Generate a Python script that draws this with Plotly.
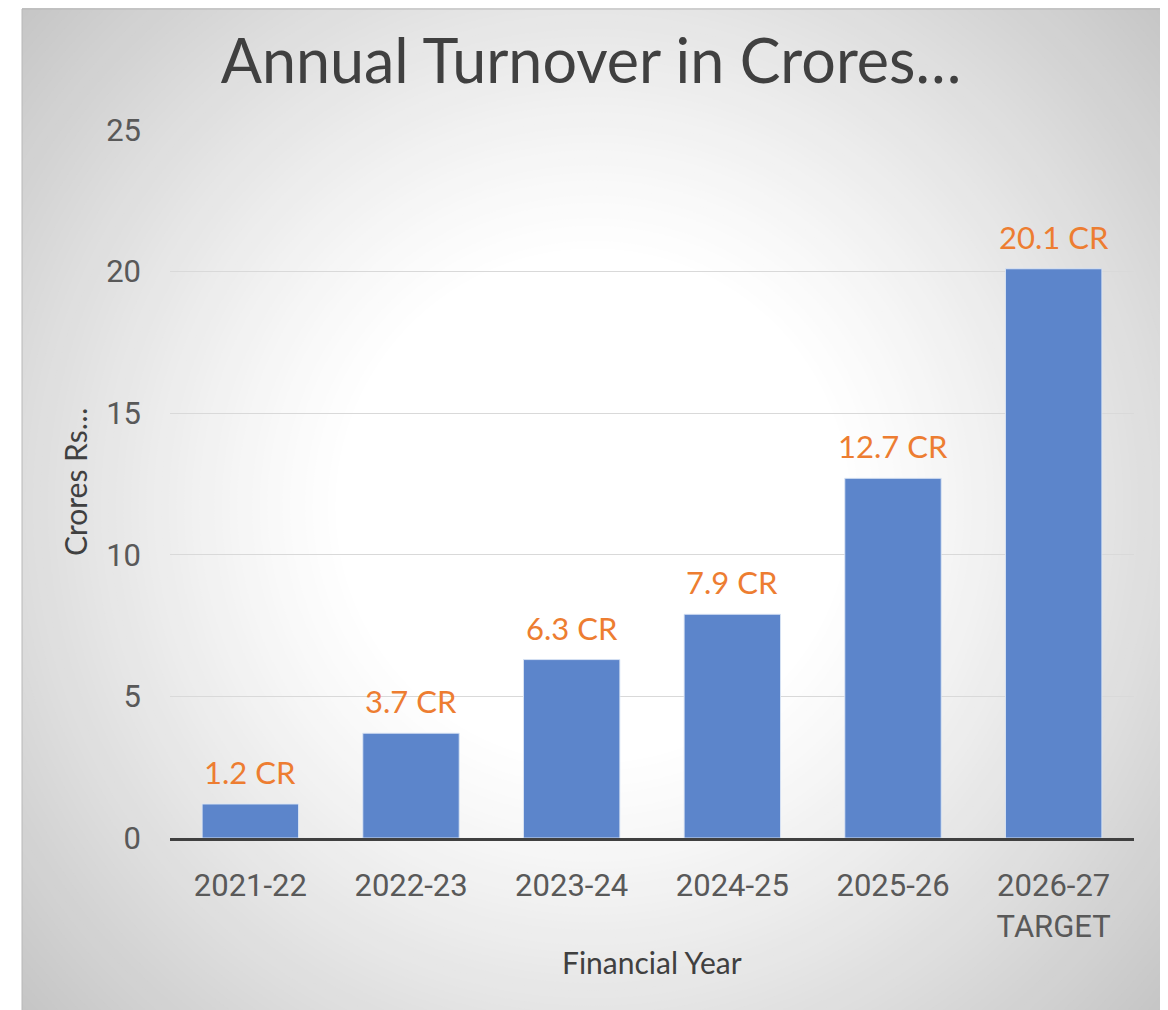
import plotly.graph_objects as go

# ---- data ----
categories = ["2021-22", "2022-23", "2023-24", "2024-25", "2025-26", "2026-27<br>TARGET"]
turnover = [1.2, 3.7, 6.3, 7.9, 12.7, 20.1]
labels = ["1.2 CR", "3.7 CR", "6.3 CR", "7.9 CR", "12.7 CR", "20.1 CR"]
y_ticks = [0, 5, 10, 15, 20, 25]

OFF = 8  # page body margin
W, H = 1168 - OFF, 1010 - OFF
L, R, T, B = 170 - OFF, 34, 130 - OFF, 172
PW, PH = W - L - R, H - T - B


def px_x(x):  # x in reference (window) pixels -> paper
    return (x - OFF - L) / PW


def px_y(y):  # y in reference (window) pixels -> paper
    return (H - B - (y - OFF)) / PH


fig = go.Figure()
fig.add_trace(go.Bar(
    x=categories, y=turnover,
    marker=dict(color="#5c85cb", line=dict(color="rgba(220,230,245,0.9)", width=1)),
    hoverinfo="skip", showlegend=False,
))

shapes = []
# radial gradient background (concentric circles)
cx, cy = 593, 506
r_in, r_out = 250, 780
n = 70
for i in range(n + 1):
    r = r_out - (r_out - r_in) * i / n
    frac = (r - r_in) / (r_out - r_in)
    c = int(round(255 - 60 * frac ** 1.15))
    shapes.append(dict(type="circle", xref="paper", yref="paper", layer="below",
                       x0=px_x(cx - r), x1=px_x(cx + r), y0=px_y(cy + r), y1=px_y(cy - r),
                       fillcolor=f"rgb({c},{c},{c})", line=dict(width=0)))
# white margins outside frame
for (x0, y0, x1, y1) in [(-5, -5, 22, 1030), (-5, -5, 1185, 3), (1164, -5, 1185, 1030)]:
    shapes.append(dict(type="rect", xref="paper", yref="paper", layer="below",
                       x0=px_x(x0), x1=px_x(x1), y0=px_y(y1), y1=px_y(y0),
                       fillcolor="white", line=dict(width=0)))
# frame border
shapes.append(dict(type="rect", xref="paper", yref="paper", layer="below",
                   x0=px_x(22), x1=px_x(1164), y0=px_y(1014), y1=px_y(9),
                   fillcolor="rgba(0,0,0,0)", line=dict(color="#b8b8b8", width=1)))

annotations = []
for cat, v, lab in zip(categories, turnover, labels):
    annotations.append(dict(x=cat, y=v, xref="x", yref="y", text=lab, showarrow=False,
                            yanchor="bottom", yshift=11,
                            font=dict(family="Lato", size=31, color="#ed7d31")))
annotations.append(dict(x=0.5, y=px_y(962), xref="paper", yref="paper", text="Financial Year",
                        showarrow=False, xanchor="center", yanchor="middle",
                        font=dict(family="Lato", size=30, color="#404040")))
annotations.append(dict(x=px_x(75), y=px_y(482), xref="paper", yref="paper", text="Crores Rs…",
                        showarrow=False, textangle=-90, xanchor="center", yanchor="middle",
                        font=dict(family="Lato", size=30, color="#404040")))

fig.update_layout(
    width=W, height=H,
    margin=dict(l=L, r=R, t=T, b=B, pad=0),
    paper_bgcolor="white",
    plot_bgcolor="rgba(0,0,0,0)",
    bargap=0.4,
    title=dict(text="Annual Turnover in Crores…", x=(591 - OFF) / W, xref="container", xanchor="center",
               y=1 - (62 - OFF) / H, yref="container", yanchor="middle",
               font=dict(family="Lato", size=61, color="#404040")),
    xaxis=dict(showline=True, linecolor="#404040", linewidth=3, showgrid=False,
               ticks="", tickfont=dict(family="Roboto", size=31, color="#595959"),
               ticklabelstandoff=18),
    yaxis=dict(range=[0, 25], tickvals=y_ticks, showgrid=True, gridcolor="#d9d9d9", gridwidth=1,
               zeroline=False, showline=False, ticks="",
               tickfont=dict(family="Roboto", size=31, color="#595959"),
               ticklabelstandoff=28),
    shapes=shapes,
    annotations=annotations,
)

fig.write_html("out.html")
